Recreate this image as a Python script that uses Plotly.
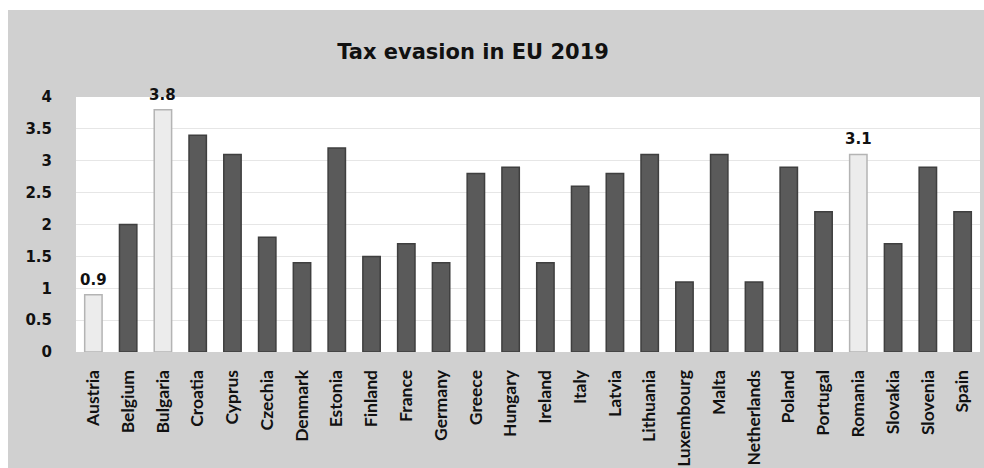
import plotly.graph_objects as go

countries = ["Austria", "Belgium", "Bulgaria", "Croatia", "Cyprus", "Czechia", "Denmark",
             "Estonia", "Finland", "France", "Germany", "Greece", "Hungary", "Ireland",
             "Italy", "Latvia", "Lithuania", "Luxembourg", "Malta", "Netherlands",
             "Poland", "Portugal", "Romania", "Slovakia", "Slovenia", "Spain"]
evasion = [0.9, 2.0, 3.8, 3.4, 3.1, 1.8, 1.4, 3.2, 1.5, 1.7, 1.4, 2.8, 2.9, 1.4,
           2.6, 2.8, 3.1, 1.1, 3.1, 1.1, 2.9, 2.2, 3.1, 1.7, 2.9, 2.2]
highlighted = ["Austria", "Bulgaria", "Romania"]
y_ticks = [0, 0.5, 1, 1.5, 2, 2.5, 3, 3.5, 4]
y_tick_text = ["0", "0.5", "1", "1.5", "2", "2.5", "3", "3.5", "4"]

WIDE = "'DejaVu Sans', sans-serif"
NARROW = "Lato, 'Open Sans', sans-serif"
DARK = "#5a5a5a"
LIGHT = "#ececec"

fill = [LIGHT if c in highlighted else DARK for c in countries]
edge = ["#b4b4b4" if c in highlighted else "#3f3f3f" for c in countries]

fig = go.Figure(go.Bar(
    x=countries,
    y=evasion,
    marker=dict(color=fill, line=dict(color=edge, width=1.5)),
    width=0.5,
    hoverinfo="x+y",
))

# value labels for the highlighted countries
for c, v in zip(countries, evasion):
    if c in highlighted:
        fig.add_annotation(
            x=c, y=v, text=f"<b>{v}</b>", showarrow=False,
            yanchor="bottom", yshift=4,
            font=dict(family=WIDE, size=15, color="#111111"),
        )

# page framing: white strip on the left and top edges of the grey card
fig.add_shape(type="rect", xref="paper", yref="paper",
              x0=-0.2, x1=(8 - 76) / 904, y0=-1, y1=2,
              fillcolor="white", line=dict(width=0), layer="above")
fig.add_shape(type="rect", xref="paper", yref="paper",
              x0=-0.2, x1=1.2, y0=(352 - 10) / 255, y1=2,
              fillcolor="white", line=dict(width=0), layer="above")

fig.update_layout(
    width=984, height=468,
    margin=dict(l=76, r=4, t=97, b=116),
    paper_bgcolor="#d0d0d0",
    plot_bgcolor="white",
    showlegend=False,
    title=dict(
        text="<b>Tax evasion in EU 2019</b>",
        x=(473 / 984), xanchor="center",
        y=1 - 52 / 468, yanchor="middle",
        font=dict(family=WIDE, size=21, color="#111111"),
    ),
    bargap=0.5,
)

# invisible ticks push the labels away from the plot area
fig.update_yaxes(
    range=[0, 4],
    tickvals=y_ticks, ticktext=[f"<b>{t}</b>" for t in y_tick_text],
    tickfont=dict(family=WIDE, size=15, color="#111111"),
    showgrid=True, gridcolor="#e6e6e6", gridwidth=1,
    zeroline=False, showline=False, automargin=False,
    ticks="outside", ticklen=20, tickcolor="rgba(0,0,0,0)",
)
fig.update_xaxes(
    tickangle=-90,
    tickvals=countries, ticktext=[f"<b>{c}</b>" for c in countries],
    tickfont=dict(family=NARROW, size=17.5, color="#111111"),
    showgrid=False, showline=False, zeroline=False, automargin=False,
    ticks="outside", ticklen=10, tickcolor="rgba(0,0,0,0)",
)

fig.write_html("out.html")
